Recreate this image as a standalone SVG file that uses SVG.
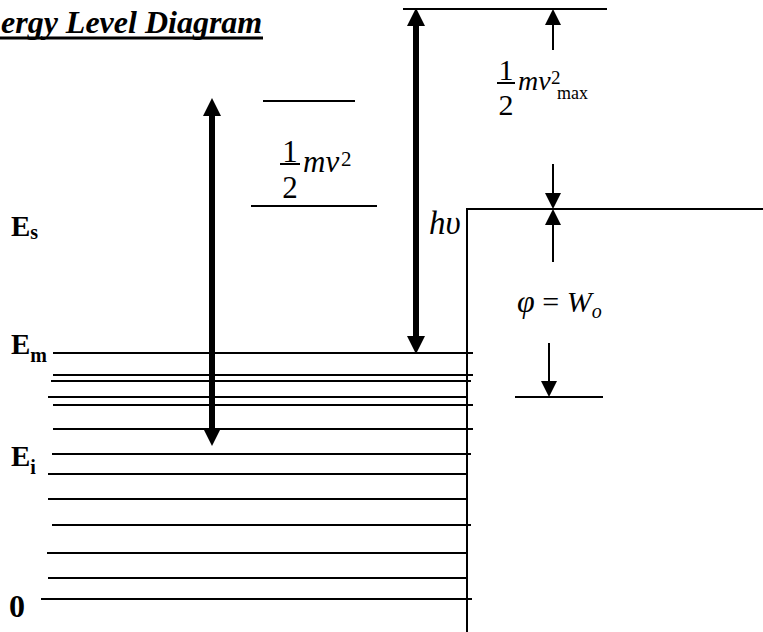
<svg xmlns="http://www.w3.org/2000/svg" width="763" height="632" viewBox="0 0 763 632">
<style>
.ln{stroke:#000;stroke-width:2;fill:none}
.thick{stroke:#000;stroke-width:6;fill:none}
.thin{stroke:#000;stroke-width:2;fill:none}
.serif{font-family:"Liberation Serif","Times New Roman",serif;fill:#000}
.lbl{font-family:"Liberation Serif","Times New Roman",serif;font-weight:bold;fill:#000}
.it{font-style:italic}
</style>
<defs>
<marker id="headThick" viewBox="0 0 18 18" refX="0" refY="9" markerWidth="18" markerHeight="18" markerUnits="userSpaceOnUse" orient="auto-start-reverse">
<path d="M0,0 L18,9 L0,18 z" fill="#000"/>
</marker>
<marker id="headThin" viewBox="0 0 16 16" refX="0" refY="8" markerWidth="16" markerHeight="16" markerUnits="userSpaceOnUse" orient="auto-start-reverse">
<path d="M0,0 L16,8 L0,16 z" fill="#000"/>
</marker>
</defs>
<rect width="763" height="632" fill="#fff"/>

<g id="title">
<text class="serif" x="1" y="33" font-size="32" font-weight="bold" font-style="italic">ergy Level Diagram</text>
<rect x="0" y="36.5" width="263" height="3" fill="#000"/>
</g>

<g id="levels">
<line class="ln" x1="53" y1="353" x2="473" y2="353"/>
<line class="ln" x1="53" y1="375" x2="473" y2="375"/>
<line class="ln" x1="51" y1="381" x2="471" y2="381"/>
<line class="ln" x1="48" y1="397" x2="467" y2="397"/>
<line class="ln" x1="53" y1="405" x2="473" y2="405"/>
<line class="ln" x1="53" y1="429" x2="473" y2="429"/>
<line class="ln" x1="52" y1="454" x2="471" y2="454"/>
<line class="ln" x1="48" y1="474" x2="467" y2="474"/>
<line class="ln" x1="48" y1="499" x2="467" y2="499"/>
<line class="ln" x1="52" y1="525" x2="471" y2="525"/>
<line class="ln" x1="47" y1="553" x2="467" y2="553"/>
<line class="ln" x1="48" y1="578" x2="467" y2="578"/>
<line class="ln" x1="41" y1="599" x2="472" y2="599"/>
</g>

<g id="surface">
<path class="ln" d="M467,632 V209 H763"/>
</g>

<g id="upper-lines">
<line class="ln" x1="403" y1="9" x2="607" y2="9"/>
<line class="ln" x1="263" y1="101" x2="355" y2="101"/>
<line class="ln" x1="251" y1="206" x2="377" y2="206"/>
<line class="ln" x1="515" y1="397" x2="603" y2="397"/>
</g>

<g id="connectors">
<line class="thick" x1="212" y1="116" x2="212" y2="428" marker-start="url(#headThick)" marker-end="url(#headThick)"/>
<line class="thick" x1="416" y1="26" x2="416" y2="336" marker-start="url(#headThick)" marker-end="url(#headThick)"/>
<line class="thin" x1="553" y1="50" x2="553" y2="25" marker-end="url(#headThin)"/>
<line class="thin" x1="553" y1="164" x2="553" y2="193" marker-end="url(#headThin)"/>
<line class="thin" x1="553" y1="262" x2="553" y2="225" marker-end="url(#headThin)"/>
<line class="thin" x1="549" y1="343" x2="549" y2="381" marker-end="url(#headThin)"/>
</g>

<g id="label-Es"><text class="lbl" x="11" y="236" font-size="29">E<tspan font-size="20" dy="3">s</tspan></text></g>
<g id="label-Em"><text class="lbl" x="11" y="354" font-size="29">E<tspan font-size="20" dy="8">m</tspan></text></g>
<g id="label-Ei"><text class="lbl" x="11" y="466" font-size="29">E<tspan font-size="20" dy="8">i</tspan></text></g>
<g id="label-0"><text class="lbl" x="9" y="617" font-size="32">0</text></g>

<g id="ke">
<text class="serif" x="290" y="162" font-size="31" text-anchor="middle">1</text>
<line class="ln" x1="280" y1="164" x2="300" y2="164" stroke-width="1.5"/>
<text class="serif" x="290" y="198" font-size="31" text-anchor="middle">2</text>
<text class="serif it" x="303" y="172" font-size="31">mv</text>
<text class="serif" x="341" y="166" font-size="21">2</text>
</g>

<g id="ke-max">
<text class="serif" x="506" y="80" font-size="30" text-anchor="middle">1</text>
<line class="ln" x1="497" y1="83" x2="515" y2="83" stroke-width="1.5"/>
<text class="serif" x="506" y="115" font-size="30" text-anchor="middle">2</text>
<text class="serif it" x="518" y="90" font-size="28">mv</text>
<text class="serif" x="551" y="84" font-size="19">2</text>
<text class="serif" x="557" y="99" font-size="18">max</text>
</g>

<g id="photon">
<text class="serif it" x="429" y="234" font-size="33">hυ</text>
</g>

<g id="work-function">
<text class="serif" x="517" y="312" font-size="30"><tspan class="it" font-size="32">φ</tspan> = <tspan class="it">W</tspan><tspan class="it" font-size="20" dy="6">o</tspan></text>
</g>
</svg>
